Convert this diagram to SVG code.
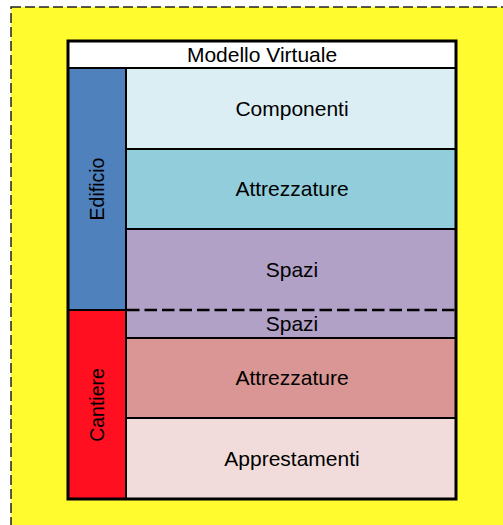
<svg xmlns="http://www.w3.org/2000/svg" width="503" height="525" viewBox="0 0 503 525">
<style>
.cell{stroke:#000;stroke-width:2}
.t{font-family:"Liberation Sans",Arial,sans-serif;font-size:21px;fill:#000;text-anchor:middle}
.v{font-family:"Liberation Sans",Arial,sans-serif;font-size:19.5px;fill:#000;text-anchor:middle}
</style>
<rect x="0" y="0" width="503" height="525" fill="#ffffff"/>
<rect id="background" x="11" y="7" width="540" height="560" fill="#fffb2f" stroke="#222" stroke-width="1.5" stroke-dasharray="10 4"/>
<g id="header">
<rect class="cell" x="68" y="41" width="388" height="27" fill="#ffffff"/>
<text class="t" x="262" y="62">Modello Virtuale</text>
</g>
<g id="edificio">
<rect class="cell" x="68" y="68" width="58" height="242" fill="#4f81bd"/>
<text class="v" transform="translate(104,189) rotate(-90)">Edificio</text>
</g>
<g id="cantiere">
<rect class="cell" x="68" y="310" width="58" height="189" fill="#ff0f1f"/>
<text class="v" transform="translate(104,405) rotate(-90)">Cantiere</text>
</g>
<g id="componenti">
<rect class="cell" x="126" y="68" width="330" height="81" fill="#dbeef3"/>
<text class="t" x="292" y="116">Componenti</text>
</g>
<g id="attrezzature-edificio">
<rect class="cell" x="126" y="149" width="330" height="80" fill="#92cddc"/>
<text class="t" x="292" y="196">Attrezzature</text>
</g>
<g id="spazi">
<rect class="cell" x="126" y="229" width="330" height="109" fill="#b2a1c7"/>
<text class="t" x="292" y="277">Spazi</text>
<text class="t" x="292" y="331">Spazi</text>
</g>
<g id="attrezzature-cantiere">
<rect class="cell" x="126" y="338" width="330" height="80" fill="#d99694"/>
<text class="t" x="292" y="385">Attrezzature</text>
</g>
<g id="apprestamenti">
<rect class="cell" x="126" y="418" width="330" height="81" fill="#f2dcdb"/>
<text class="t" x="292" y="466">Apprestamenti</text>
</g>
<g id="connectors">
<line x1="127" y1="310" x2="455" y2="310" stroke="#000" stroke-width="2.5" stroke-dasharray="12.5 5"/>
</g>
<rect id="frame" x="68" y="41" width="388" height="458" fill="none" stroke="#000" stroke-width="3"/>
</svg>
